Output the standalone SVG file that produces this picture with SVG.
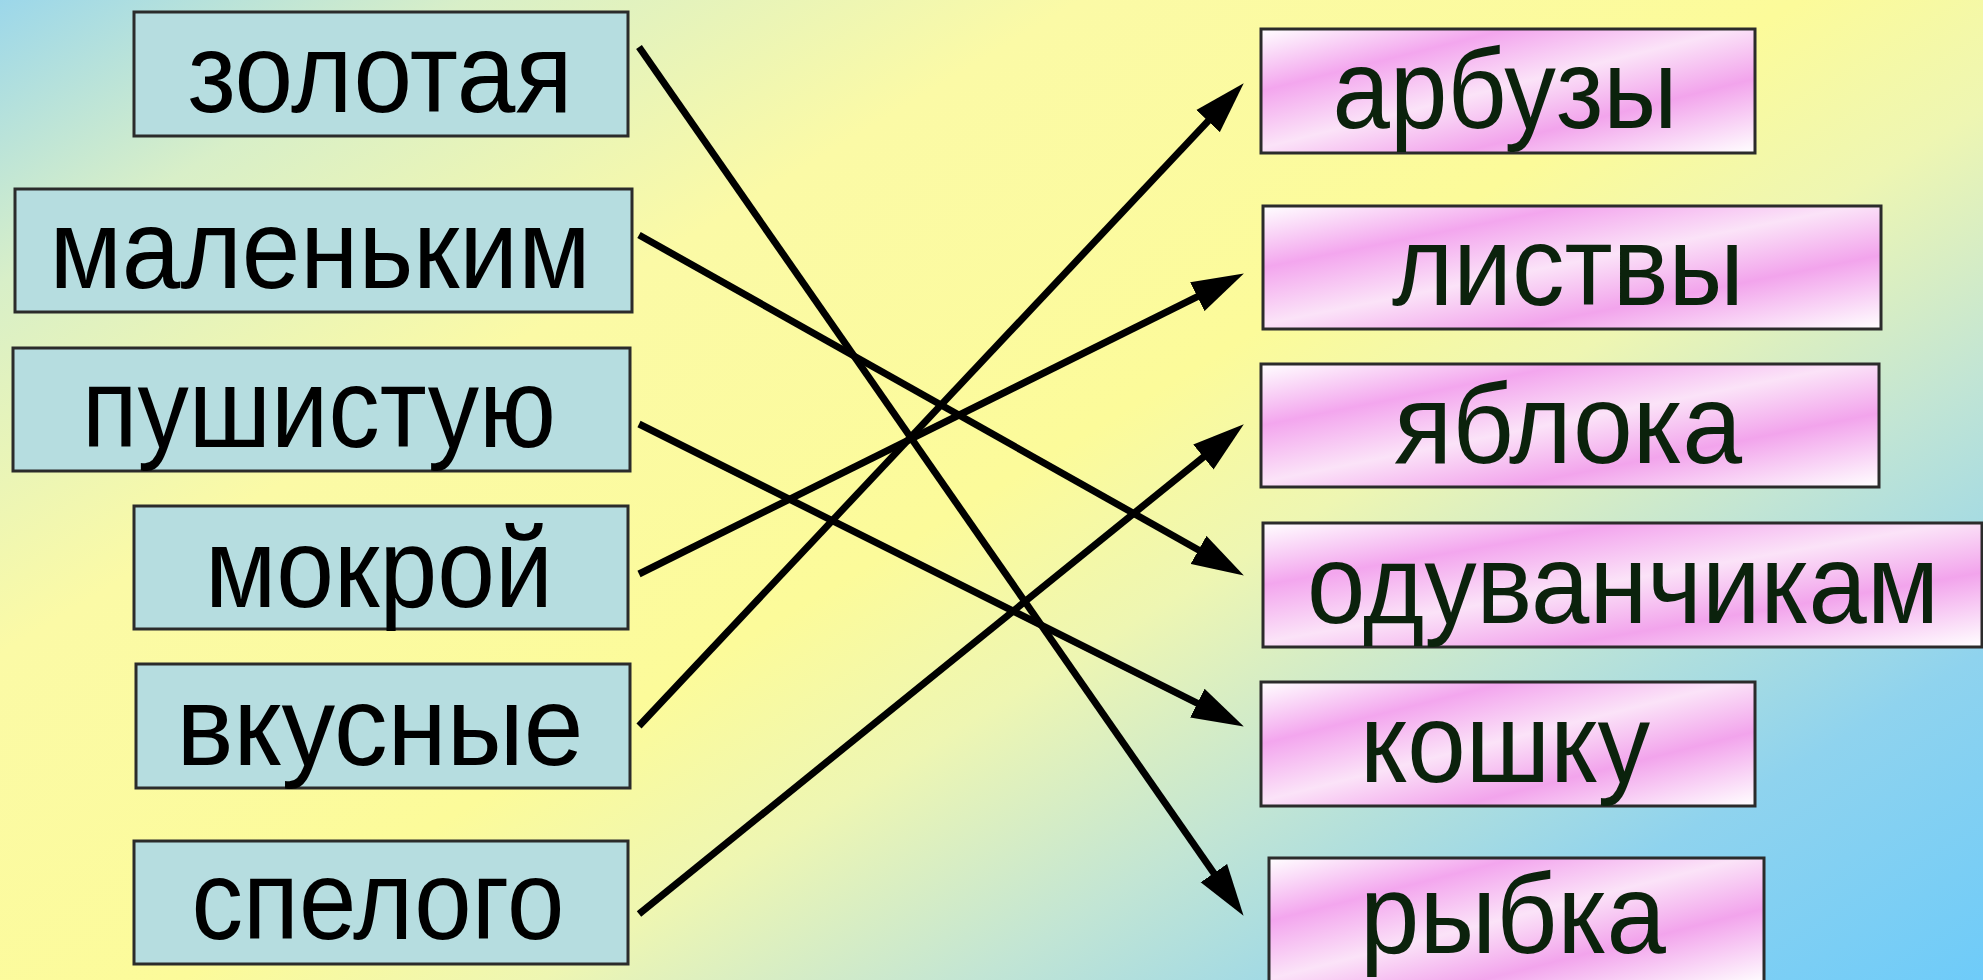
<svg xmlns="http://www.w3.org/2000/svg" width="1983" height="980" viewBox="0 0 1983 980">
<defs>
<linearGradient id="bg" x1="0" y1="0" x2="1.089" y2="0.891">
<stop offset="0" stop-color="#9cd7ea"/>
<stop offset="0.13" stop-color="#d8efc8"/>
<stop offset="0.3" stop-color="#fbfaa6"/>
<stop offset="0.5" stop-color="#fcfb9a"/>
<stop offset="0.6" stop-color="#eef6b2"/>
<stop offset="0.72" stop-color="#c2e5d4"/>
<stop offset="0.85" stop-color="#8fd3ee"/>
<stop offset="1" stop-color="#6ecbf9"/>
</linearGradient>
<linearGradient id="pink" x1="0" y1="0" x2="1" y2="1">
<stop offset="0" stop-color="#ffffff"/>
<stop offset="0.25" stop-color="#f3a6ee"/>
<stop offset="0.48" stop-color="#fbe3f8"/>
<stop offset="0.7" stop-color="#f2a4ec"/>
<stop offset="1" stop-color="#ffffff"/>
</linearGradient>
<marker id="arr" markerUnits="userSpaceOnUse" markerWidth="52" markerHeight="33" refX="25" refY="15.5" orient="auto" viewBox="0 0 50 31">
<path d="M0,0 L50,15.5 L0,31 Z" fill="#000"/>
</marker>
<style>
.lb{fill:#b6dde0;stroke:#2b2b2b;stroke-width:3}
.rb{fill:url(#pink);stroke:#2b2b2b;stroke-width:3}
.lt{font-family:"Liberation Sans",Arial,sans-serif;font-size:113px;fill:#000;text-anchor:middle}
.rt{font-family:"Liberation Sans",Arial,sans-serif;font-size:113px;fill:#0b220c;text-anchor:middle}
.cn{stroke:#000;stroke-width:7;fill:none;marker-end:url(#arr)}
</style>
</defs>
<rect x="0" y="0" width="1983" height="980" fill="url(#bg)"/>

<g id="left-zolotaya"><rect class="lb" x="134" y="12" width="494" height="124"/><text class="lt" x="380" y="112" textLength="385" lengthAdjust="spacingAndGlyphs">золотая</text></g>
<g id="left-malenkim"><rect class="lb" x="15" y="189" width="617" height="123"/><text class="lt" x="320" y="288" textLength="541" lengthAdjust="spacingAndGlyphs">маленьким</text></g>
<g id="left-pushistuyu"><rect class="lb" x="13" y="348" width="617" height="123"/><text class="lt" x="319" y="447" textLength="474" lengthAdjust="spacingAndGlyphs">пушистую</text></g>
<g id="left-mokroy"><rect class="lb" x="134" y="506" width="494" height="123"/><text class="lt" x="379" y="607" textLength="348" lengthAdjust="spacingAndGlyphs">мокрой</text></g>
<g id="left-vkusnye"><rect class="lb" x="136" y="664" width="494" height="124"/><text class="lt" x="380" y="765" textLength="407" lengthAdjust="spacingAndGlyphs">вкусные</text></g>
<g id="left-spelogo"><rect class="lb" x="134" y="841" width="494" height="123"/><text class="lt" x="378" y="939" textLength="373" lengthAdjust="spacingAndGlyphs">спелого</text></g>

<g id="right-arbuzy"><rect class="rb" x="1261" y="29" width="494" height="124"/><text class="rt" x="1505" y="128" textLength="345" lengthAdjust="spacingAndGlyphs">арбузы</text></g>
<g id="right-listvy"><rect class="rb" x="1263" y="206" width="618" height="123"/><text class="rt" x="1568" y="305" textLength="352" lengthAdjust="spacingAndGlyphs">листвы</text></g>
<g id="right-yabloka"><rect class="rb" x="1261" y="364" width="618" height="123"/><text class="rt" x="1568" y="463" textLength="348" lengthAdjust="spacingAndGlyphs">яблока</text></g>
<g id="right-oduvanchikam"><rect class="rb" x="1263" y="523" width="719" height="124"/><text class="rt" x="1623" y="623" textLength="632" lengthAdjust="spacingAndGlyphs">одуванчикам</text></g>
<g id="right-koshku"><rect class="rb" x="1261" y="682" width="494" height="124"/><text class="rt" x="1505" y="782" textLength="290" lengthAdjust="spacingAndGlyphs">кошку</text></g>
<g id="right-rybka"><rect class="rb" x="1269" y="858" width="495" height="126"/><text class="rt" x="1513" y="953" textLength="306" lengthAdjust="spacingAndGlyphs">рыбка</text></g>

<g id="connectors">
<line class="cn" x1="639" y1="47" x2="1228.7" y2="894.5"/>
<line class="cn" x1="639" y1="235" x2="1221.2" y2="562.7"/>
<line class="cn" x1="639" y1="424" x2="1220.6" y2="714.8"/>
<line class="cn" x1="639" y1="574" x2="1220.6" y2="285.1"/>
<line class="cn" x1="639" y1="726" x2="1225.9" y2="102.2"/>
<line class="cn" x1="639" y1="914" x2="1223.6" y2="440.7"/>
</g>
</svg>
